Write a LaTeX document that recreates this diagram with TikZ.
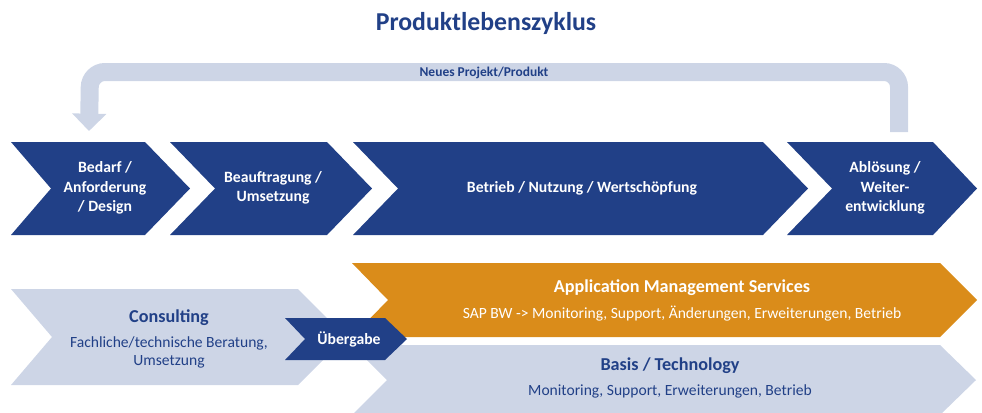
\documentclass[tikz,border=0pt]{standalone}
\usepackage{fontspec}
\setmainfont{Carlito}
\usetikzlibrary{positioning,arrows.meta}

\definecolor{sapblue}{RGB}{33,64,135}
\definecolor{paleblue}{RGB}{205,213,230}
\definecolor{amsorange}{RGB}{218,140,26}

\tikzset{
  phasetext/.style={text=white, align=center, font=\bfseries\fontsize{13.4}{16.5}\selectfont},
  headtext/.style={align=center, font=\bfseries\fontsize{15.5}{18}\selectfont, inner sep=1pt},
  desctext/.style={align=center, font=\fontsize{13.3}{15}\selectfont, inner sep=1pt}
}

\begin{document}
\begin{tikzpicture}[x=0.03cm, y=-0.03cm]
\clip (0,0) rectangle (982,412);

\node (title) at (486,23) [text=sapblue, font=\bfseries\fontsize{22}{26}\selectfont] {Produktlebenszyklus};

% return arrow
\coordinate (retstart) at (899,132);
\coordinate (retend) at (89,131);
\draw[paleblue, line width=0.54cm, rounded corners=0.45cm, -{Triangle[width=1cm, length=0.52cm]}]
  (retstart) -- (899,72) -- (90,72) -- (retend);
\node (neu) at (484,73) [text=sapblue, font=\bfseries\fontsize{11.5}{13}\selectfont] {Neues Projekt/Produkt};

% phases
\fill[sapblue] (11,142) -- (145,142) -- (190,188.5) -- (145,235) -- (11,235) -- (51,188.5) -- cycle;
\fill[sapblue] (170,142) -- (327,142) -- (372,188.5) -- (327,235) -- (170,235) -- (215,188.5) -- cycle;
\fill[sapblue] (353,142) -- (763,142) -- (808,188.5) -- (763,235) -- (353,235) -- (398,188.5) -- cycle;
\fill[sapblue] (787,142) -- (933,142) -- (977,188.5) -- (933,235) -- (787,235) -- (832,188.5) -- cycle;

\node (bedarf) at (105,188) [phasetext] {Bedarf /\\Anforderung\\/ Design};
\node (auftrag) at (273,188) [phasetext] {Beauftragung /\\Umsetzung};
\node (betrieb) at (582,188) [phasetext] {Betrieb / Nutzung / Wertschöpfung};
\node (abloes) at (885,188) [phasetext] {Ablösung /\\Weiter-\\entwicklung};

% services
\fill[paleblue] (11,289) -- (298,289) -- (346,337) -- (298,385) -- (11,385) -- (52,337) -- cycle;
\fill[amsorange] (352,263) -- (940,263) -- (977,300) -- (940,337) -- (352,337) -- (388,300) -- cycle;
\fill[paleblue] (352,345) -- (940,345) -- (976,380) -- (940,415) -- (352,415) -- (387,380) -- cycle;
\fill[sapblue] (285,318) -- (385,318) -- (407,339) -- (385,360) -- (285,360) -- (305,339) -- cycle;

\node (cons) at (169,318) [headtext, text=sapblue] {Consulting};
\node (consdesc) [desctext, text=sapblue, below=7pt of cons] {Fachliche/technische Beratung,\\Umsetzung};
\node (uebergabe) at (349,339) [phasetext] {Übergabe};

\node (ams) at (682,288) [headtext, text=white] {Application Management Services};
\node (amsdesc) [desctext, text=white, below=6pt of ams] {SAP BW -> Monitoring, Support, Änderungen, Erweiterungen, Betrieb};

\node (basis) at (670,366) [headtext, text=sapblue] {Basis / Technology};
\node (basisdesc) [desctext, text=sapblue, below=7pt of basis] {Monitoring, Support, Erweiterungen, Betrieb};

\end{tikzpicture}
\end{document}
